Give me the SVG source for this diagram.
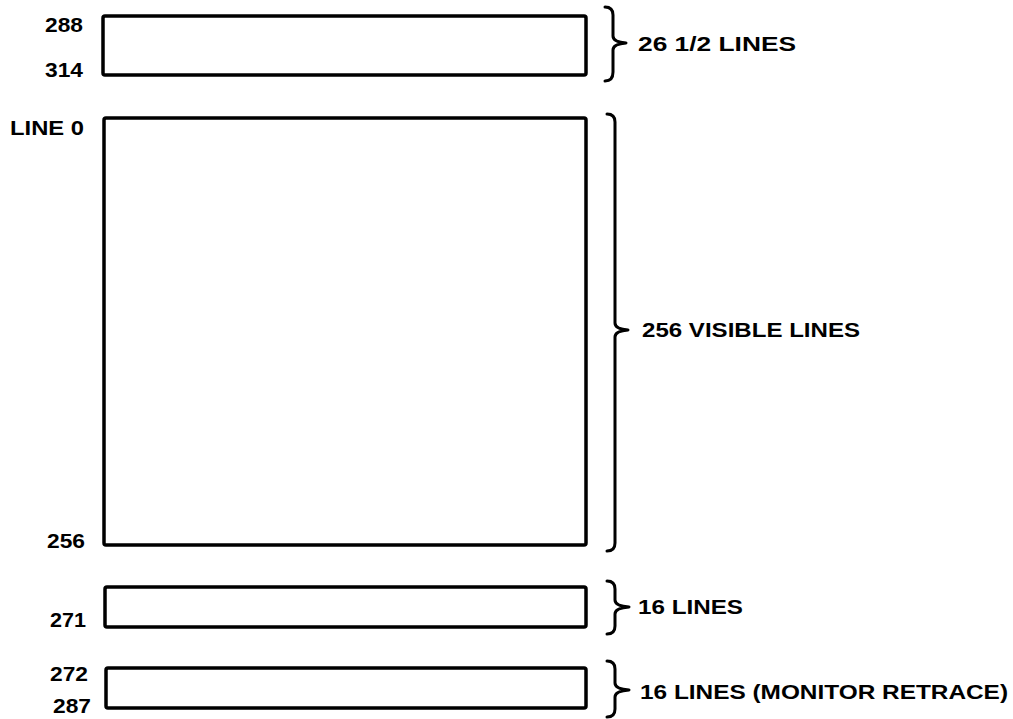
<svg xmlns="http://www.w3.org/2000/svg" width="1013" height="719" viewBox="0 0 1013 719">
<style>
.box{fill:none;stroke:#000;stroke-width:3.5;stroke-linejoin:round}
.br{fill:none;stroke:#000;stroke-width:3;stroke-linecap:round;stroke-linejoin:round}
text{font-family:"Liberation Sans",Arial,sans-serif;font-weight:bold;font-size:21px;fill:#000}
</style>
<rect width="1013" height="719" fill="#fff"/>
<g id="box-top">
<rect class="box" x="103" y="16" width="483" height="59" rx="2"/>
<text x="45" y="32" textLength="38" lengthAdjust="spacingAndGlyphs">288</text>
<text x="45" y="77" textLength="38" lengthAdjust="spacingAndGlyphs">314</text>
</g>
<g id="box-visible">
<rect class="box" x="104" y="118" width="482" height="427" rx="2"/>
<text x="10" y="135" textLength="74" lengthAdjust="spacingAndGlyphs">LINE 0</text>
<text x="47" y="548" textLength="38" lengthAdjust="spacingAndGlyphs">256</text>
</g>
<g id="box-16">
<rect class="box" x="105" y="587" width="481" height="40" rx="2"/>
<text x="50" y="627" textLength="36" lengthAdjust="spacingAndGlyphs">271</text>
</g>
<g id="box-retrace">
<rect class="box" x="106" y="668" width="480" height="40" rx="2"/>
<text x="50" y="681" textLength="38" lengthAdjust="spacingAndGlyphs">272</text>
<text x="53" y="713" textLength="38" lengthAdjust="spacingAndGlyphs">287</text>
</g>
<g id="braces">
<path class="br" d="M605,7 Q613,7 613,15 L613,36 Q613,42 626,43 Q613,44 613,50 L613,72 Q613,81 605,81"/>
<path class="br" d="M607,114 Q615,114 615,122 L615,323 Q615,329 628,330 Q615,331 615,337 L615,543 Q615,551 607,551"/>
<path class="br" d="M607,581 Q615,581 615,589 L615,600 Q615,606 629,607 Q615,608 615,614 L615,626 Q615,634 607,634"/>
<path class="br" d="M607,661 Q615,661 615,669 L615,683 Q615,689 629,690 Q615,691 615,697 L615,709 Q615,717 607,717"/>
</g>
<g id="labels">
<text x="638" y="51" textLength="158" lengthAdjust="spacingAndGlyphs">26 1/2 LINES</text>
<text x="642" y="337" textLength="218" lengthAdjust="spacingAndGlyphs">256 VISIBLE LINES</text>
<text x="638" y="614" textLength="105" lengthAdjust="spacingAndGlyphs">16 LINES</text>
<text x="640" y="699" textLength="368" lengthAdjust="spacingAndGlyphs">16 LINES (MONITOR RETRACE)</text>
</g>
</svg>
